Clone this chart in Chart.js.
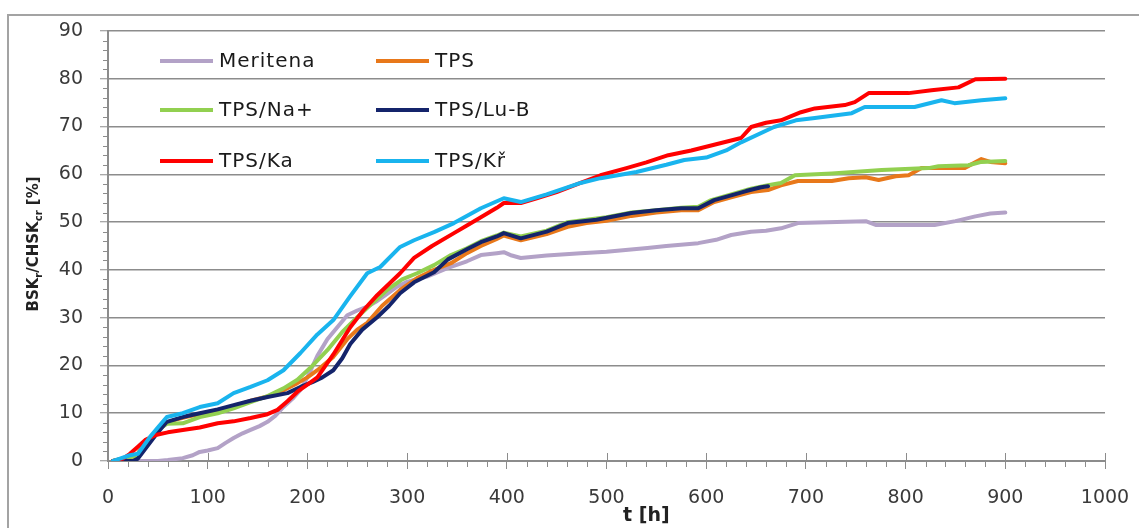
<!DOCTYPE html>
<html>
<head>
<meta charset="utf-8">
<script src="https://cdn.jsdelivr.net/npm/chart.js@4"></script>
<style>
  body { margin: 0; background: #fff; }
  #c { display: block; }
</style>
</head>
<body>
<canvas id="c" width="1139" height="528"></canvas>
<script>
// series labels (legend reads row by row)
var seriesNames = ["Meritena", "TPS", "TPS/Na+", "TPS/Lu-B", "TPS/Ka", "TPS/Kř"];

// time [h] and value [%] for each sample
var tMeritena = [5, 50, 60, 75, 85, 92, 100, 110, 118, 126, 135, 143, 152, 160, 168, 176, 185, 193, 200, 210, 220, 230, 240, 250, 260, 270, 280, 290, 300, 307, 320, 341, 360, 374, 390, 397, 405, 414, 440, 474, 500, 541, 560, 592, 610, 625, 645, 660, 675, 692, 760, 770, 829, 850, 870, 885, 900];
var vMeritena = [0, 0, 0.2, 0.6, 1.2, 1.9, 2.2, 2.7, 3.8, 4.8, 5.8, 6.5, 7.3, 8.2, 9.5, 11.3, 13, 14.9, 17.5, 22, 25.5, 28, 30.5, 31.5, 32.3, 33.5, 35, 36.5, 37.5, 37.9, 38.6, 40.4, 41.8, 43.1, 43.5, 43.7, 43, 42.5, 43, 43.5, 43.8, 44.6, 45, 45.6, 46.3, 47.3, 48, 48.2, 48.7, 49.8, 50.2, 49.4, 49.4, 50.2, 51.2, 51.8, 52];

var tTPS = [5, 20, 28, 35, 42, 50, 59, 70, 80, 92, 110, 126, 143, 160, 176, 190, 200, 210, 226, 240, 250, 260, 275, 293, 310, 327, 344, 360, 374, 390, 397, 414, 440, 461, 480, 500, 525, 550, 575, 592, 608, 625, 645, 662, 675, 692, 726, 743, 760, 773, 790, 803, 816, 859, 876, 885, 900];
var vTPS = [0, 0.8, 1, 3, 4.5, 6.5, 8, 8.8, 9.3, 9.8, 10.5, 11.5, 12.6, 13.5, 14.8, 16.3, 17.5, 19, 21.8, 25.5, 27.5, 28.9, 32.5, 35.8, 38.3, 40, 41.4, 43.5, 45, 46.5, 47.2, 46.2, 47.5, 49, 49.8, 50.3, 51.3, 52, 52.5, 52.5, 54.2, 55.2, 56.3, 56.7, 57.7, 58.6, 58.6, 59.2, 59.4, 58.8, 59.6, 59.8, 61.3, 61.3, 63.2, 62.6, 62.3];

var tNa = [5, 20, 28, 35, 42, 50, 59, 75, 92, 110, 126, 143, 160, 176, 190, 203, 220, 235, 250, 265, 280, 295, 310, 327, 344, 360, 374, 390, 397, 414, 440, 461, 480, 500, 525, 550, 575, 592, 605, 625, 645, 662, 675, 689, 726, 776, 823, 833, 863, 876, 900];
var vNa = [0, 0.8, 1, 3, 4.5, 6.5, 7.8, 7.9, 9.2, 10, 11, 12.3, 13.6, 15.2, 17, 19.5, 23.2, 27, 30.1, 33, 35.8, 38, 39.3, 41, 43.1, 44.5, 46, 47.2, 47.8, 47, 48.2, 50, 50.5, 51, 52, 52.5, 53, 53.2, 54.6, 55.8, 57, 57.7, 58.2, 59.8, 60.2, 60.9, 61.3, 61.7, 61.9, 62.6, 62.8];

var tLuB = [5, 25, 30, 42, 50, 59, 75, 92, 110, 126, 143, 160, 180, 193, 205, 215, 226, 235, 243, 255, 270, 282, 293, 307, 327, 341, 360, 374, 390, 397, 414, 440, 461, 490, 525, 550, 575, 592, 608, 625, 640, 655, 662];
var vLuB = [0, 0, 0.5, 3.8, 6, 8.2, 9.2, 10, 10.8, 11.7, 12.6, 13.4, 14.2, 15.5, 16.5, 17.5, 19, 21.5, 24.5, 27.5, 30.1, 32.5, 35.1, 37.4, 39.5, 42.2, 44.3, 45.8, 47, 47.7, 46.6, 48, 49.8, 50.5, 51.9, 52.5, 52.9, 52.9, 54.6, 55.6, 56.5, 57.3, 57.5];

var tKa = [5, 15, 22, 30, 38, 49, 60, 75, 92, 110, 126, 143, 160, 170, 180, 190, 200, 210, 226, 243, 256, 270, 293, 307, 325, 347, 360, 374, 390, 397, 414, 430, 450, 474, 494, 520, 540, 562, 585, 610, 635, 645, 660, 675, 695, 709, 739, 749, 763, 803, 826, 853, 870, 900];
var vKa = [0, 0.5, 1.5, 3, 4.5, 5.5, 6, 6.5, 7, 7.9, 8.3, 9, 9.8, 10.7, 12.5, 14.5, 16, 17.5, 22.3, 28, 31.5, 34.7, 39.3, 42.5, 45, 47.7, 49.3, 51, 53, 54, 54, 55, 56.3, 58.2, 59.8, 61.3, 62.5, 64, 65, 66.3, 67.6, 69.9, 70.8, 71.3, 73, 73.8, 74.5, 75.1, 77, 77, 77.6, 78.2, 79.9, 80];

var tKr = [5, 12, 22, 30, 42, 50, 59, 75, 92, 110, 126, 143, 160, 176, 193, 210, 226, 243, 260, 273, 293, 307, 327, 347, 374, 397, 414, 440, 474, 494, 530, 560, 578, 600, 620, 635, 668, 690, 709, 746, 759, 809, 836, 849, 876, 900];
var vKr = [0, 0.5, 1.2, 1.5, 5, 7, 9.2, 10, 11.3, 12.1, 14.2, 15.5, 16.9, 19, 22.6, 26.5, 29.5, 34.5, 39.3, 40.6, 44.8, 46.2, 47.9, 49.8, 52.9, 55, 54.2, 55.8, 58.2, 59.2, 60.5, 62, 63, 63.5, 65, 66.7, 69.9, 71.3, 71.8, 72.8, 74.1, 74.1, 75.5, 74.9, 75.5, 75.9];

var xTicks = [0, 100, 200, 300, 400, 500, 600, 700, 800, 900, 1000];
var yTicks = [0, 10, 20, 30, 40, 50, 60, 70, 80, 90];

var times = [tMeritena, tTPS, tNa, tLuB, tKa, tKr];
var values = [vMeritena, vTPS, vNa, vLuB, vKa, vKr];
var colors = ["#b3a2c7", "#e8781a", "#92d050", "#14246b", "#ff0000", "#19b4ee"];

var gridColor = "#8c8c8c";
var textColor = "#3a3a3a";

function toPoints(ts, vs) {
  return ts.map(function (t, i) { return { x: t, y: vs[i] }; });
}

var datasets = seriesNames.map(function (name, i) {
  return {
    label: name,
    data: toPoints(times[i], values[i]),
    borderColor: colors[i],
    backgroundColor: colors[i],
    borderWidth: 4,
    pointRadius: 0,
    tension: 0,
    fill: false,
    borderJoinStyle: "round",
    borderCapStyle: "round",
    order: seriesNames.length - i, // later series on top
  };
});

// frame, minor ticks, legend and axis titles
var extras = {
  id: "extras",
  beforeDraw: function (chart) {
    var ctx = chart.ctx;
    ctx.save();
    ctx.strokeStyle = "#a3a3a3";
    ctx.lineWidth = 2;
    ctx.beginPath();
    ctx.moveTo(8, 528);
    ctx.lineTo(8, 15);
    ctx.lineTo(1139, 15);
    ctx.stroke();
    ctx.restore();
  },
  afterDraw: function (chart) {
    var ctx = chart.ctx;
    var a = chart.chartArea;
    var xs = chart.scales.x;
    var ys = chart.scales.y;
    ctx.save();
    ctx.strokeStyle = gridColor;
    ctx.lineWidth = 1;
    ctx.beginPath();
    // minor ticks on y (every 2 %)
    for (var v = 0; v <= 90; v += 2) {
      if (v % 10 === 0) continue;
      var py = Math.round(ys.getPixelForValue(v)) + 0.5;
      ctx.moveTo(a.left - 5, py);
      ctx.lineTo(a.left, py);
    }
    // minor ticks on x (every 20 h) and major ticks crossing the axis
    for (var t = 0; t <= 1000; t += 20) {
      var px = Math.round(xs.getPixelForValue(t)) + 0.5;
      if (t % 100 === 0) {
        ctx.moveTo(px, a.bottom - 8);
        ctx.lineTo(px, a.bottom);
      } else {
        ctx.moveTo(px, a.bottom);
        ctx.lineTo(px, a.bottom + 6);
      }
    }
    ctx.stroke();

    // legend, two columns
    var cols = [160, 376];
    var rows = [61, 110, 161];
    ctx.font = "20px 'DejaVu Sans'";
    ctx.letterSpacing = "1px";
    ctx.textBaseline = "middle";
    ctx.textAlign = "left";
    chart.data.datasets.forEach(function (ds, i) {
      var lx = cols[i % 2];
      var ly = rows[Math.floor(i / 2)];
      ctx.strokeStyle = ds.borderColor;
      ctx.lineWidth = 4;
      ctx.beginPath();
      ctx.moveTo(lx, ly);
      ctx.lineTo(lx + 53, ly);
      ctx.stroke();
      ctx.fillStyle = "#1a1a1a";
      ctx.fillText(ds.label, lx + 59, ly + 1);
    });
    ctx.letterSpacing = "0px";

    // y title with subscripts, rotated
    ctx.save();
    ctx.translate(38, 244);
    ctx.rotate(-Math.PI / 2);
    var parts = [["BSK", 0], ["r", 1], ["/CHSK", 0], ["cr", 1], [" [%]", 0]];
    var big = "bold 15px 'DejaVu Sans'";
    var small = "bold 10px 'DejaVu Sans'";
    var total = 0;
    parts.forEach(function (p) {
      ctx.font = p[1] ? small : big;
      total += ctx.measureText(p[0]).width;
    });
    var cx = -total / 2;
    ctx.fillStyle = "#222";
    ctx.textBaseline = "alphabetic";
    parts.forEach(function (p) {
      ctx.font = p[1] ? small : big;
      ctx.fillText(p[0], cx, p[1] ? 4 : 0);
      cx += ctx.measureText(p[0]).width;
    });
    ctx.restore();

    // x title
    ctx.font = "bold 19px 'DejaVu Sans'";
    ctx.fillStyle = "#222";
    ctx.textBaseline = "alphabetic";
    ctx.fillText("t [h]", 623, 521);
    ctx.restore();
  },
};

new Chart(document.getElementById("c").getContext("2d"), {
  type: "line",
  data: { datasets: datasets },
  plugins: [extras],
  options: {
    responsive: false,
    animation: false,
    devicePixelRatio: 1,
    layout: { padding: { top: 31, right: 34, left: 0, bottom: 0 } },
    plugins: {
      legend: { display: false },
      tooltip: { enabled: false },
    },
    scales: {
      x: {
        type: "linear",
        min: 0,
        max: 1000,
        afterFit: function (scale) {
          scale.height = 67;
          scale.paddingLeft = 0;
          scale.paddingRight = 0;
        },
        afterBuildTicks: function (scale) {
          scale.ticks = xTicks.map(function (v) { return { value: v }; });
        },
        ticks: {
          font: { family: "DejaVu Sans", size: 19 },
          color: textColor,
          padding: 18,
          maxRotation: 0,
          autoSkip: false,
          callback: function (v) { return String(v); },
        },
        grid: {
          drawOnChartArea: false,
          color: gridColor,
          tickLength: 8,
          tickWidth: 1,
        },
        border: { color: gridColor, width: 2 },
      },
      y: {
        type: "linear",
        min: 0,
        max: 90,
        afterFit: function (scale) {
          scale.width = 108;
          scale.paddingTop = 0;
          scale.paddingBottom = 0;
        },
        afterBuildTicks: function (scale) {
          scale.ticks = yTicks.map(function (v) { return { value: v }; });
        },
        ticks: {
          font: { family: "DejaVu Sans", size: 19 },
          color: textColor,
          padding: 17,
        },
        grid: {
          color: gridColor,
          lineWidth: 1.5,
          tickLength: 8,
          tickWidth: 1,
        },
        border: { color: gridColor, width: 2 },
      },
    },
  },
});
</script>
</body>
</html>
